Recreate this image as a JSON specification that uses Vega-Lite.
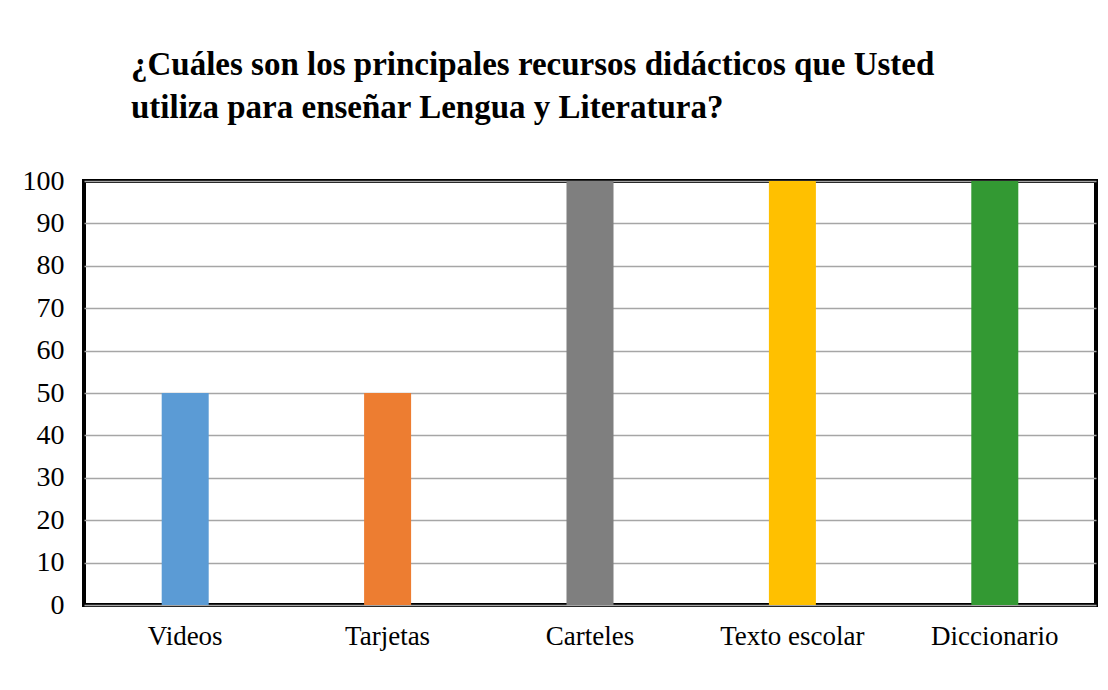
{
  "$schema": "https://vega.github.io/schema/vega-lite/v6.json",
  "width": 1012,
  "height": 424,
  "autosize": {"type": "none"},
  "padding": {"left": 84, "top": 181, "right": 12, "bottom": 85},
  "background": "white",
  "config": {
    "view": {"stroke": "black", "strokeWidth": 4},
    "font": "Liberation Serif"
  },
  "title": {
    "text": ["¿Cuáles son  los principales recursos didácticos que Usted", "utiliza para enseñar Lengua y Literatura?"],
    "anchor": "start",
    "frame": "group",
    "dx": 47,
    "offset": 42,
    "font": "Liberation Serif",
    "fontSize": 33,
    "fontWeight": "bold",
    "color": "black",
    "lineHeight": 43
  },
  "data": {
    "values": [
      {"recurso": "Videos", "valor": 50},
      {"recurso": "Tarjetas", "valor": 50},
      {"recurso": "Carteles", "valor": 100},
      {"recurso": "Texto escolar", "valor": 100},
      {"recurso": "Diccionario", "valor": 100}
    ]
  },
  "mark": {"type": "bar", "size": 47},
  "encoding": {
    "x": {
      "field": "recurso",
      "type": "nominal",
      "sort": null,
      "title": null,
      "axis": {
        "labelAngle": 0,
        "labelFont": "Liberation Serif",
        "labelFontSize": 27,
        "labelColor": "black",
        "labelPadding": 18,
        "ticks": false,
        "domain": false
      }
    },
    "y": {
      "field": "valor",
      "type": "quantitative",
      "title": null,
      "scale": {"domain": [0, 100], "nice": false},
      "axis": {
        "values": [0, 10, 20, 30, 40, 50, 60, 70, 80, 90, 100],
        "labelFont": "Liberation Serif",
        "labelFontSize": 28,
        "labelColor": "black",
        "labelPadding": 20,
        "ticks": false,
        "domain": false,
        "grid": true,
        "gridColor": "#a6a6a6",
        "gridWidth": 1.5
      }
    },
    "color": {
      "field": "recurso",
      "type": "nominal",
      "sort": null,
      "legend": null,
      "scale": {
        "domain": ["Videos", "Tarjetas", "Carteles", "Texto escolar", "Diccionario"],
        "range": ["#5b9bd5", "#ed7d31", "#7f7f7f", "#ffc000", "#339933"]
      }
    }
  }
}
